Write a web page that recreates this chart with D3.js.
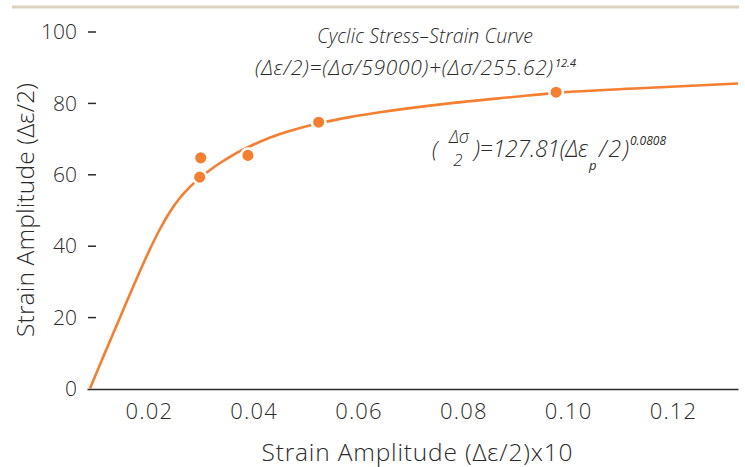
<!DOCTYPE html>
<html>
<head>
<meta charset="utf-8">
<script src="https://cdn.jsdelivr.net/npm/d3@7"></script>
<style>
  html, body { margin: 0; padding: 0; background: #ffffff; }
  svg { display: block; font-family: "Open Sans", "Noto Sans", sans-serif; }
</style>
</head>
<body>
<svg id="chart" width="745" height="467"></svg>
<script>
// Fitted cyclic stress-strain curve (x: strain amplitude x10, y: amplitude)
const curveX = [0.00877, 0.01068, 0.01259, 0.0145, 0.0164, 0.01831, 0.02022, 0.02213, 0.02404, 0.02594, 0.02785, 0.02976, 0.03167, 0.03358, 0.03548, 0.03739, 0.0393, 0.04121, 0.04502, 0.04884, 0.05265, 0.05838, 0.0641, 0.07688, 0.08948, 0.09768, 0.11466, 0.1324];
const curveY = [0.0, 6.72, 13.31, 19.89, 26.47, 32.91, 39.08, 44.68, 49.5, 53.42, 56.5, 59.02, 61.2, 63.17, 64.9, 66.47, 67.87, 69.13, 71.26, 72.94, 74.34, 76.02, 77.37, 79.8, 81.65, 82.8, 84.17, 85.43];

// Measured test points
const pointX = [0.0297, 0.0299, 0.0389, 0.0524, 0.0977];
const pointY = [59.2, 64.6, 65.3, 74.6, 83.0];

// Axis ticks
const xTicks = [0.02, 0.04, 0.06, 0.08, 0.10, 0.12];
const yTicks = [0, 20, 40, 60, 80, 100];

const orange = "#f47f31";
const ink = "#2b2b2b";
const fontStack = '"Open Sans", "Noto Sans", sans-serif';
const axisWeight = 330;

const svg = d3.select("#chart");

const x = d3.scaleLinear().domain([0.0082, 0.1324]).range([87, 738]);
const y = d3.scaleLinear().domain([0, 100]).range([388.5, 31.5]);

// Top rule
svg.append("line")
  .attr("x1", 12).attr("x2", 739)
  .attr("y1", 7).attr("y2", 7)
  .attr("stroke", "#ddd2bf").attr("stroke-width", 3);

// Y axis: tick marks and labels only
const yAxis = svg.append("g")
  .attr("transform", "translate(96,0)")
  .call(d3.axisLeft(y).tickValues(yTicks).tickSize(8).tickPadding(11).tickFormat(d3.format("d")))
  .attr("font-family", fontStack);
yAxis.select(".domain").remove();
yAxis.selectAll(".tick line").attr("stroke", ink).attr("stroke-width", 1.5);
yAxis.selectAll(".tick").filter(d => d === 0).select("line").remove();
yAxis.selectAll("text").attr("fill", ink).style("font-size", "21px").style("font-weight", axisWeight).attr("dy", "0.34em");

// X axis: baseline and labels
const xAxis = svg.append("g")
  .attr("transform", "translate(0,389)")
  .call(d3.axisBottom(x).tickValues(xTicks).tickSize(0).tickPadding(14).tickFormat(d3.format(".2f")))
  .attr("font-family", fontStack);
xAxis.select(".domain").attr("stroke", ink).attr("stroke-width", 1.6);
xAxis.selectAll("text").attr("fill", ink).style("font-size", "22px").style("font-weight", axisWeight)
  .style("letter-spacing", "1.2px");

// Axis titles
svg.append("text")
  .attr("x", 417).attr("y", 461)
  .attr("text-anchor", "middle")
  .attr("textLength", 311).attr("lengthAdjust", "spacing")
  .attr("fill", ink).style("font-size", "24.5px").style("font-weight", axisWeight)
  .text("Strain Amplitude (Δε/2)x10");

svg.append("text")
  .attr("transform", "translate(34,210) rotate(-90)")
  .attr("text-anchor", "middle")
  .attr("textLength", 254).attr("lengthAdjust", "spacing")
  .attr("fill", ink).style("font-size", "24.5px").style("font-weight", axisWeight)
  .text("Strain Amplitude (Δε/2)");

// Curve
const line = d3.line()
  .x(d => x(d[0]))
  .y(d => y(d[1]))
  .curve(d3.curveMonotoneX);

svg.append("path")
  .datum(d3.zip(curveX, curveY))
  .attr("d", line)
  .attr("fill", "none")
  .attr("stroke", orange)
  .attr("stroke-width", 2.6);

// Test points
svg.append("g")
  .selectAll("circle")
  .data(d3.zip(pointX, pointY))
  .join("circle")
  .attr("cx", d => x(d[0]))
  .attr("cy", d => y(d[1]))
  .attr("r", 6.8)
  .attr("fill", orange)
  .attr("stroke", "#ffffff")
  .attr("stroke-width", 2.5);

// Equation annotations
const note = svg.append("g").attr("fill", ink).style("font-style", "italic").style("font-weight", 360);

function piece(txt, px, py, size, opts = {}) {
  const t = note.append("text")
    .attr("x", px).attr("y", py)
    .style("font-size", size + "px")
    .text(txt);
  if (opts.anchor) t.attr("text-anchor", opts.anchor);
  if (opts.len) t.attr("textLength", opts.len).attr("lengthAdjust", "spacing");
  if (opts.weight) t.style("font-weight", opts.weight);
  return t;
}

piece("Cyclic Stress–Strain Curve", 425, 43, 19.5, { anchor: "middle", len: 216 });
piece("(Δε/2)=(Δσ/59000)+(Δσ/255.62)", 255, 75, 21, { len: 298 });
piece("12.4", 555, 67, 11, { weight: 420 });

piece("(", 432, 157, 22);
piece("Δσ", 459, 143, 18, { anchor: "middle" });
piece("2", 458, 166, 17, { anchor: "middle" });
piece(")=127.81(Δε", 474, 157, 23, { len: 114 });
piece("p", 589, 170, 13, { weight: 420 });
piece("/2)", 599, 157, 23, { len: 30 });
piece("0.0808", 630, 145, 12, { weight: 420 });
</script>
</body>
</html>
